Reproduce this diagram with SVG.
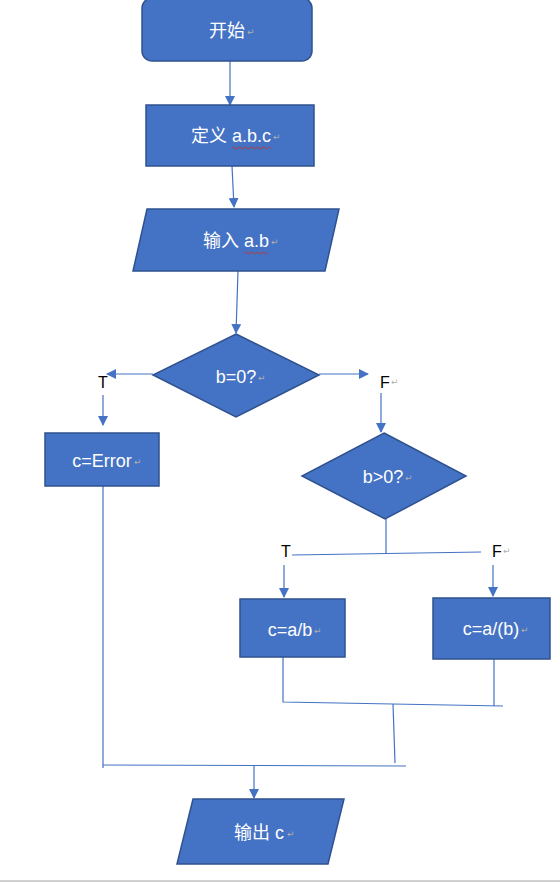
<svg xmlns="http://www.w3.org/2000/svg" width="560" height="883" viewBox="0 0 560 883">
<style>
.shape{fill:#4472C4;stroke:#2F528F;stroke-width:1.5}
.t{fill:#fff;font-family:"Liberation Sans","Noto Sans CJK SC",sans-serif;font-size:18px;text-anchor:middle;dominant-baseline:central}
.lbl{fill:#000;font-family:"Liberation Sans",sans-serif;font-size:16px;dominant-baseline:central}
.pm{fill:#b0b0b0;font-family:"DejaVu Sans",sans-serif;font-size:9px}
.c{fill:none;stroke:#4472C4;stroke-width:1.2}
.sq{fill:none;stroke:#c0392b;stroke-width:0.9}
</style>
<defs>
<marker id="ah" markerWidth="10" markerHeight="10" refX="9" refY="5" orient="auto" markerUnits="userSpaceOnUse">
<path d="M0,0 L10,5 L0,10 Z" fill="#4472C4"/>
</marker>
</defs>
<rect x="0" y="0" width="560" height="883" fill="#fff"/>
<g id="connectors">
<line class="c" x1="230" y1="61" x2="230" y2="105" marker-end="url(#ah)"/>
<line class="c" x1="232" y1="166" x2="234" y2="207" marker-end="url(#ah)"/>
<line class="c" x1="238" y1="271" x2="236" y2="333" marker-end="url(#ah)"/>
<line class="c" x1="153" y1="374" x2="107" y2="374" marker-end="url(#ah)"/>
<line class="c" x1="103" y1="395" x2="103" y2="425" marker-end="url(#ah)"/>
<line class="c" x1="319" y1="374" x2="368" y2="374" marker-end="url(#ah)"/>
<line class="c" x1="381" y1="393" x2="381" y2="432" marker-end="url(#ah)"/>
<line class="c" x1="386" y1="519" x2="386" y2="554"/>
<line class="c" x1="292" y1="555" x2="481" y2="552"/>
<line class="c" x1="284" y1="565" x2="284" y2="597" marker-end="url(#ah)"/>
<line class="c" x1="493" y1="565" x2="493" y2="596" marker-end="url(#ah)"/>
<polyline class="c" points="283,657 283,702 503,706"/>
<line class="c" x1="494" y1="659" x2="494" y2="706"/>
<line class="c" x1="393" y1="704" x2="395" y2="763"/>
<line class="c" x1="103" y1="486" x2="103" y2="768"/>
<line class="c" x1="103" y1="765" x2="406" y2="766"/>
<line class="c" x1="254" y1="765" x2="254" y2="798" marker-end="url(#ah)"/>
</g>
<g id="start">
<rect class="shape" x="142" y="-2" width="170" height="63" rx="10"/>
<text class="t" x="227" y="31">开始</text>
<text class="pm" x="247" y="35">↵</text>
</g>
<g id="define">
<rect class="shape" x="146" y="105" width="168" height="61"/>
<text class="t" x="231" y="136">定义 a.b.c</text>
<path class="sq" d="M232,148 q1.5,-2 3,0 t3,0 t3,0 t3,0 t3,0 t3,0 t3,0 t3,0 t3,0 t3,0 t3,0 t3,0 t3,0"/>
<text class="pm" x="273" y="140">↵</text>
</g>
<g id="input">
<polygon class="shape" points="147,209 339,209 325,271 133,271"/>
<text class="t" x="236" y="241">输入 a.b</text>
<path class="sq" d="M244,253 q1.5,-2 3,0 t3,0 t3,0 t3,0 t3,0 t3,0 t3,0 t3,0"/>
<text class="pm" x="271" y="245">↵</text>
</g>
<g id="cond1">
<polygon class="shape" points="236,334 319,375 236,417 153,375"/>
<text class="t" x="236" y="377">b=0?</text>
<text class="pm" x="258" y="381">↵</text>
</g>
<g id="labelT1"><text class="lbl" x="98" y="382">T</text></g>
<g id="labelF1"><text class="lbl" x="380" y="382">F</text><text class="pm" x="391" y="385">↵</text></g>
<g id="error">
<rect class="shape" x="45" y="433" width="114" height="53"/>
<text class="t" x="102" y="461">c=Error</text>
<text class="pm" x="134" y="465">↵</text>
</g>
<g id="cond2">
<polygon class="shape" points="384,433 466,476 385,519 302,476"/>
<text class="t" x="383" y="477">b&gt;0?</text>
<text class="pm" x="405" y="481">↵</text>
</g>
<g id="labelT2"><text class="lbl" x="281" y="551">T</text></g>
<g id="labelF2"><text class="lbl" x="492" y="551">F</text><text class="pm" x="503" y="554">↵</text></g>
<g id="div1">
<rect class="shape" x="240" y="599" width="105" height="58"/>
<text class="t" x="290" y="630">c=a/b</text>
<text class="pm" x="314" y="634">↵</text>
</g>
<g id="div2">
<rect class="shape" x="433" y="598" width="117" height="61"/>
<text class="t" x="491" y="629">c=a/(b)</text>
<text class="pm" x="521" y="633">↵</text>
</g>
<g id="output">
<polygon class="shape" points="193,799 344,799 328,864 177,864"/>
<text class="t" x="259" y="833">输出 c</text>
<text class="pm" x="287" y="837">↵</text>
</g>
<line x1="0" y1="881" x2="560" y2="881" stroke="#c0c0c0" stroke-width="1.5"/>
</svg>
